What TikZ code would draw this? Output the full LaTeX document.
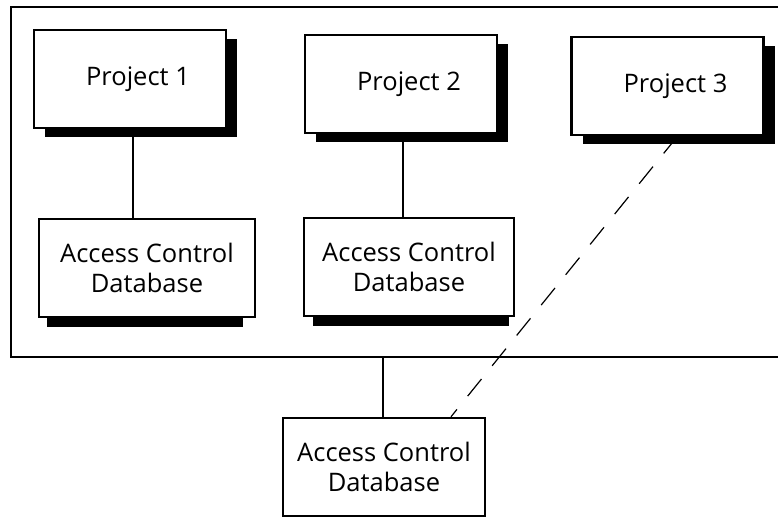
\documentclass[tikz,border=0pt]{standalone}
\usepackage{fontspec}
\setmainfont{Open Sans}
\usetikzlibrary{backgrounds,shadows}

\begin{document}
\begin{tikzpicture}[x=1pt, y=-1pt, line join=miter,
  box/.style={draw, line width=2.5pt, fill=white, inner sep=0pt, align=center,
    font=\fontsize{25.5}{30}\selectfont},
  proj/.style={box, minimum width=192pt, minimum height=98pt,
    execute at begin node=\hspace*{16pt},
    drop shadow={shadow xshift=11pt, shadow yshift=-9pt, opacity=1, fill=black}},
  acdb/.style={box, minimum height=98pt},
  link/.style={line width=2pt},
  remote/.style={line width=1.2pt, dash pattern=on 22pt off 17pt}]
  \useasboundingbox (0,0) rectangle (778,517);
  % site frame, open to the right
  \draw[line width=2.7pt] (790,7) -- (11,7) -- (11,357) -- (790,357);
  \coordinate (base) at (383,357);

  \node[proj] (p1) at (130,79) {Project 1};
  \node[proj] (p2) at (401,84) {Project 2};
  \node[proj] (p3) at (667.5,86) {Project 3};
  \node[acdb, minimum width=216pt] (db1) at (147,268) {Access Control\\Database};
  \node[acdb, minimum width=210pt] (db2) at (409,267) {Access Control\\Database};
  \node[acdb, minimum width=202pt] (db3) at (384,467) {Access Control\\Database};

  \begin{scope}[on background layer]
    \draw[link] ([xshift=3pt]p1.south) -- ([xshift=3pt]p1.south |- db1.north);
    \draw[link] ([xshift=2pt]p2.south) -- ([xshift=2pt]p2.south |- db2.north);
    \draw[link] (base) -- (base |- db3.north);
    \draw[remote] ([xshift=10pt]p3.south) -- ([xshift=67pt]db3.north);
    % shadows under the databases
    \fill ([xshift=9pt]db1.south west) rectangle ([xshift=-13pt,yshift=-9pt]db1.south east);
    \fill ([xshift=10pt]db2.south west) rectangle ([xshift=-6pt,yshift=-9pt]db2.south east);
  \end{scope}
\end{tikzpicture}
\end{document}
